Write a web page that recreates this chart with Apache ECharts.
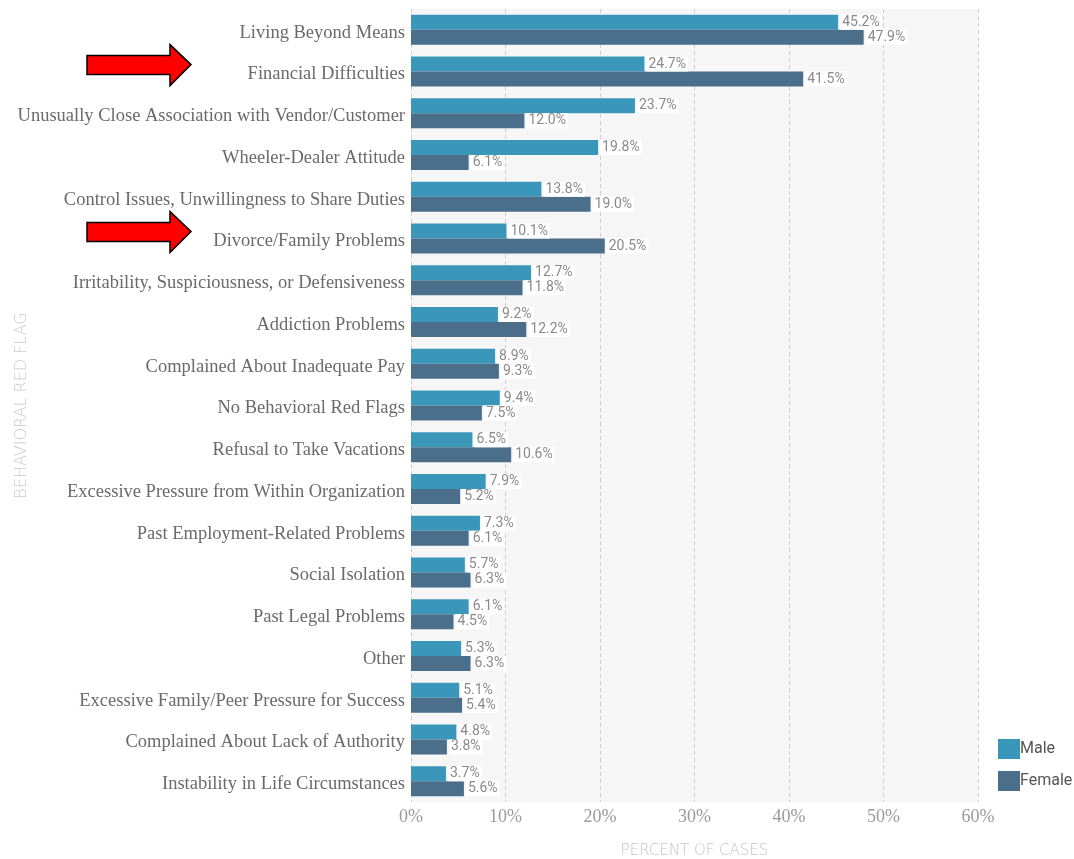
<!DOCTYPE html>
<html>
<head>
<meta charset="utf-8">
<script src="https://cdn.jsdelivr.net/npm/echarts@6/dist/echarts.min.js"></script>
<style>
  html, body { margin: 0; padding: 0; background: #fff; }
  #chart { width: 1074px; height: 859px; }
</style>
</head>
<body>
<div id="chart"></div>
<script>
// Behavioral red flags by perpetrator gender (percent of cases)
const categories = [
  'Living Beyond Means',
  'Financial Difficulties',
  'Unusually Close Association with Vendor/Customer',
  'Wheeler-Dealer Attitude',
  'Control Issues, Unwillingness to Share Duties',
  'Divorce/Family Problems',
  'Irritability, Suspiciousness, or Defensiveness',
  'Addiction Problems',
  'Complained About Inadequate Pay',
  'No Behavioral Red Flags',
  'Refusal to Take Vacations',
  'Excessive Pressure from Within Organization',
  'Past Employment-Related Problems',
  'Social Isolation',
  'Past Legal Problems',
  'Other',
  'Excessive Family/Peer Pressure for Success',
  'Complained About Lack of Authority',
  'Instability in Life Circumstances'
];
const maleValues = [45.2, 24.7, 23.7, 19.8, 13.8, 10.1, 12.7, 9.2, 8.9, 9.4, 6.5, 7.9, 7.3, 5.7, 6.1, 5.3, 5.1, 4.8, 3.7];
const femaleValues = [47.9, 41.5, 12.0, 6.1, 19.0, 20.5, 11.8, 12.2, 9.3, 7.5, 10.6, 5.2, 6.1, 6.3, 4.5, 6.3, 5.4, 3.8, 5.6];
const xTicks = [0, 10, 20, 30, 40, 50, 60];
const highlighted = ['Financial Difficulties', 'Divorce/Family Problems'];

const MALE_COLOR = '#3b97ba';
const FEMALE_COLOR = '#4b6f8b';
const serif = "'Liberation Serif', 'DejaVu Serif', serif";
const narrow = "'Liberation Sans Narrow', 'Roboto', sans-serif";

const chart = echarts.init(document.getElementById('chart'));

const valueLabel = {
  show: true,
  position: 'right',
  distance: 2,
  color: '#8a8a8a',
  fontFamily: narrow,
  fontSize: 14,
  backgroundColor: '#ffffff',
  padding: [1, 2, 0, 2],
  formatter: p => p.value.toFixed(1) + '%'
};

chart.setOption({
  animation: false,
  grid: {
    left: 411,
    width: 567,
    top: 9,
    bottom: 57,
    outerBoundsMode: 'none',
    containLabel: false,
    show: true,
    backgroundColor: '#f6f6f6',
    borderWidth: 0
  },
  legend: {
    orient: 'vertical',
    left: 993,
    top: 734,
    itemWidth: 22,
    itemHeight: 20,
    itemGap: 12,
    icon: 'rect',
    textStyle: { color: '#555', fontFamily: narrow, fontSize: 16, padding: [0, 0, 0, -5] },
    data: ['Male', 'Female']
  },
  xAxis: {
    type: 'value',
    min: xTicks[0],
    max: xTicks[xTicks.length - 1],
    interval: 10,
    name: 'PERCENT OF CASES',
    nameLocation: 'middle',
    nameGap: 42,
    nameMoveOverlap: false,
    nameTextStyle: { color: '#c4c4c4', fontFamily: "'DejaVu Sans', sans-serif", fontSize: 15, fontWeight: 'lighter' },
    axisLine: { show: false },
    axisTick: { show: false },
    axisLabel: {
      color: '#9a9a9a',
      fontFamily: serif,
      fontSize: 18,
      margin: 6,
      formatter: v => v + '%'
    },
    splitLine: { show: true, lineStyle: { color: '#cfcfcf', type: [4, 3], width: 1 } }
  },
  yAxis: {
    type: 'category',
    data: categories,
    inverse: true,
    name: 'BEHAVIORAL RED FLAG',
    nameLocation: 'middle',
    nameRotate: 90,
    nameGap: 381,
    nameMoveOverlap: false,
    nameTextStyle: { color: '#c8c8c8', fontFamily: "'DejaVu Sans', sans-serif", fontSize: 16, fontWeight: 'lighter' },
    axisLine: { show: false },
    axisTick: { show: false },
    axisLabel: {
      margin: 6,
      formatter: v => '{t|' + v + '}',
      rich: {
        t: {
          color: '#6a6a6a',
          fontFamily: serif,
          fontSize: 18.5,
          padding: [6, 0, 0, 0]
        }
      }
    },
    splitLine: { show: false }
  },
  series: [
    {
      name: 'Male',
      type: 'bar',
      data: maleValues,
      barWidth: 15,
      barGap: '0%',
      itemStyle: { color: MALE_COLOR },
      label: valueLabel
    },
    {
      name: 'Female',
      type: 'bar',
      data: femaleValues,
      barWidth: 15,
      barGap: '0%',
      itemStyle: { color: FEMALE_COLOR },
      label: valueLabel
    }
  ]
});

// Red call-out arrows pointing at the emphasised categories
const arrows = highlighted.map(name => {
  const cy = chart.convertToPixel({ yAxisIndex: 0 }, name) - 7;
  return {
    type: 'polygon',
    shape: {
      points: [
        [87, cy - 9], [170, cy - 9], [170, cy - 20], [191, cy],
        [170, cy + 21], [170, cy + 10], [87, cy + 10]
      ]
    },
    style: { fill: '#ff0000', stroke: '#000000', lineWidth: 1.5 },
    z: 100
  };
});
chart.setOption({ graphic: arrows });
</script>
</body>
</html>
